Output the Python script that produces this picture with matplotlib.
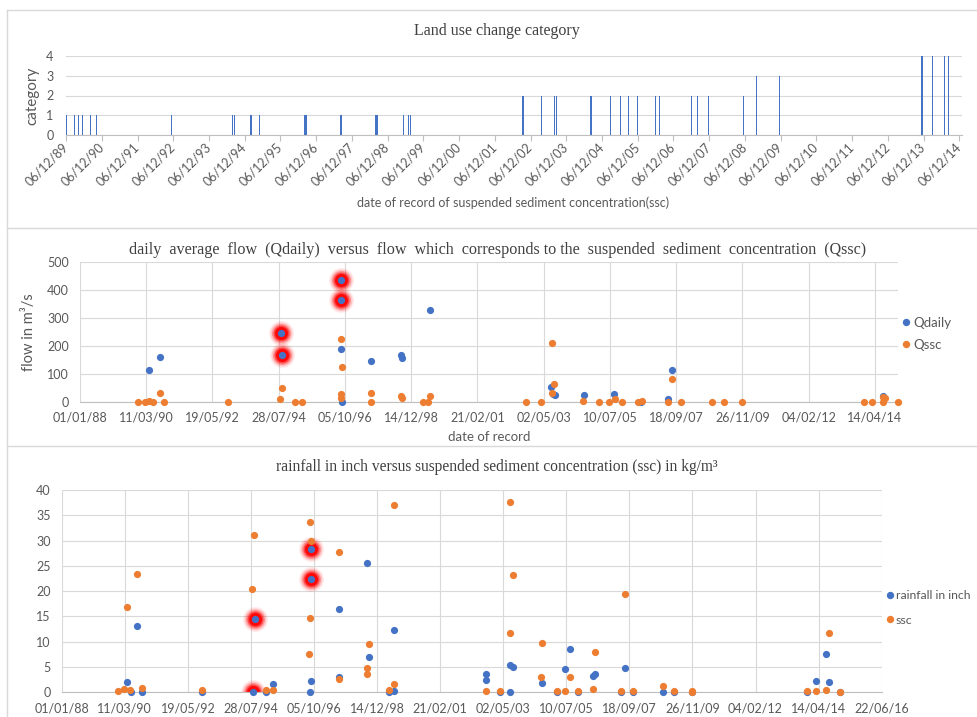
import numpy as np
import matplotlib
matplotlib.use('Agg')
import matplotlib.pyplot as plt
import matplotlib.dates as mdates
from matplotlib.lines import Line2D

# ---- land use change category (panel 1) ----
lu_dates = ['1989-12-09', '1990-02-26', '1990-04-11', '1990-05-22', '1990-08-16', '1990-10-12',
            '1992-11-17', '1994-08-07', '1994-08-24', '1995-02-08', '1995-05-06', '1996-08-06',
            '1996-08-16', '1996-08-26', '1997-08-16', '1998-08-09', '1998-08-23', '1999-05-19',
            '1999-07-09', '1999-07-26',
            '2002-09-14', '2002-09-24', '2003-03-30', '2003-08-07', '2003-08-28', '2004-08-13',
            '2004-08-23', '2005-02-27', '2005-06-16', '2005-09-01', '2005-11-30', '2006-06-02',
            '2006-07-16', '2007-06-12', '2007-08-06', '2007-11-27', '2008-11-19',
            '2009-04-07', '2009-11-25',
            '2013-11-20', '2014-03-08', '2014-07-06', '2014-08-19']
lu_cat = [1, 1, 1, 1, 1, 1, 1, 1, 1, 1, 1, 1, 1, 1, 1, 1, 1, 1, 1, 1,
          2, 2, 2, 2, 2, 2, 2, 2, 2, 2, 2, 2, 2, 2, 2, 2, 2,
          3, 3,
          4, 4, 4, 4]

# ---- flow (panel 2) ----
qdaily_dates = ['1990-04-13', '1990-08-23', '1994-08-20', '1994-09-09', '1996-08-14', '1996-08-14',
                '1996-08-14', '1996-08-26', '1997-08-15', '1998-08-12', '1998-08-20', '1999-07-27',
                '2003-08-01', '2003-08-25', '2003-09-11', '2004-09-02', '2005-08-31', '2006-07-15',
                '2007-06-06', '2007-07-28', '2014-07-23']
qdaily = [115, 160, 248, 168, 435, 365, 188, 0, 147, 168, 155, 328,
          54, 27, 25, 24, 27, 0, 8, 115, 20]
qdaily_marked = [2, 3, 4, 5]

qssc_dates = ['1989-12-05', '1990-02-24', '1990-04-13', '1990-05-28', '1990-08-23', '1990-10-11',
              '1992-11-26', '1994-08-12', '1994-09-01', '1995-02-06', '1995-05-08', '1996-08-14',
              '1996-08-14', '1996-08-14', '1996-08-26', '1997-08-15', '1997-08-15', '1998-08-12',
              '1998-08-28', '1999-05-04', '1999-07-03', '1999-07-27', '2002-09-26', '2003-04-02',
              '2003-08-09', '2003-09-02', '2003-08-09', '2004-08-21', '2005-03-03', '2005-06-28',
              '2005-09-08', '2005-11-28', '2006-06-09', '2006-07-27', '2007-06-06', '2007-07-28',
              '2007-11-17', '2008-11-19', '2009-04-13', '2009-11-27', '2013-12-03', '2014-03-17',
              '2014-07-23', '2014-07-23', '2014-08-09', '2015-01-19']
qssc = [0, 0, 4, 0, 30, 0, 0, 8, 50, 0, 0, 225, 26, 13, 125, 30, 0, 19, 12, 0, 0, 20,
        0, 0, 211, 63, 32, 4, 0, 0, 8, 0, 0, 2, 0, 83, 0, 0, 0, 0, 0, 0, 0, 18, 12, 0]

# ---- rainfall / ssc (panel 3) ----
rain_dates = ['1990-04-13', '1990-05-29', '1990-08-13', '1990-10-12', '1992-11-19', '1994-08-28',
              '1994-09-19', '1995-02-02', '1995-05-09', '1996-08-17', '1996-08-25', '1996-08-25',
              '1996-08-25', '1997-08-20', '1997-08-20', '1998-08-07', '1998-09-01', '1999-05-16',
              '1999-07-19', '1999-07-19', '2002-09-29', '2002-09-29', '2003-03-25', '2003-07-26',
              '2003-07-26', '2003-08-28', '2004-08-30', '2005-03-09', '2005-06-27', '2005-08-29',
              '2005-12-04', '2006-06-16', '2006-07-15', '2007-06-03', '2007-07-28', '2007-11-09',
              '2008-11-13', '2009-04-11', '2009-11-20', '2013-11-20', '2014-03-17', '2014-07-13',
              '2014-08-25', '2015-01-15']
rain = [2.1, 0, 13.1, 0, 0, 0, 14.5, 0, 1.7, 0, 2.3, 22.5, 28.3, 16.5, 3.0, 25.6, 6.9, 0,
        12.3, 0.2, 3.6, 2.5, 0, 5.3, 0, 5.1, 1.9, 0, 4.7, 8.5, 0, 3.3, 3.6, 0, 4.9, 0,
        0, 0, 0, 0, 2.3, 7.6, 2.1, 0]
rain_marked = [5, 6, 11, 12]

ssc_dates = ['1989-12-11', '1990-03-02', '1990-04-13', '1990-05-21', '1990-08-13', '1990-10-12',
             '1992-11-19', '1994-08-08', '1994-09-06', '1995-02-06', '1995-05-09', '1996-08-08',
             '1996-08-17', '1996-08-17', '1996-08-25', '1997-08-16', '1997-08-16', '1998-08-07',
             '1998-08-07', '1998-09-01', '1999-05-16', '1999-07-16', '1999-07-22', '2002-09-29',
             '2003-03-25', '2003-07-26', '2003-07-26', '2003-08-28', '2004-08-17', '2004-08-30',
             '2005-03-09', '2005-06-27', '2005-08-29', '2005-12-04', '2006-06-16', '2006-07-11',
             '2007-06-03', '2007-07-28', '2007-11-09', '2008-11-13', '2009-04-11', '2009-11-20',
             '2009-11-20', '2013-11-20', '2014-03-17', '2014-07-13', '2014-08-25', '2015-01-15']
ssc = [0.2, 0.6, 16.9, 0.5, 23.3, 0.9, 0.5, 20.4, 31.1, 0.5, 0.5, 7.6, 33.7, 14.6, 30.0,
       27.7, 2.6, 4.9, 3.6, 9.6, 0.5, 1.7, 37.0, 0.3, 0.3, 37.7, 11.8, 23.1, 3.0, 9.7,
       0.3, 0.3, 3.1, 0.3, 0.6, 8.0, 0.3, 19.4, 0.3, 1.25, 0.3, 0.3, 0.1, 0.3, 0.3, 0.5,
       11.7, 0.1]

BLUE = '#4472C4'
ORANGE = '#ED7D31'
TXT = '#595959'
GRID = '#d9d9d9'
SANS = 'Lato'
SERIF = 'Liberation Serif'

W, H = 977, 717
fig = plt.figure(figsize=(W / 100, H / 100), dpi=100)


def box(l, t, r, b):
    return [l / W, 1 - b / H, (r - l) / W, (b - t) / H]


def at(x, y):
    return x / W, 1 - y / H


def d64(lst):
    return np.array(lst, dtype='datetime64[D]')


def excel_axes(ax):
    for s in ['top', 'right', 'left']:
        ax.spines[s].set_visible(False)
    ax.spines['bottom'].set_color('#bfbfbf')
    ax.tick_params(colors=TXT, length=0, labelsize=9)
    for lab in ax.get_xticklabels() + ax.get_yticklabels():
        lab.set_fontfamily(SANS)
    ax.set_axisbelow(True)


def glow(ax, x, y):
    for d, a in [(25, 0.08), (22, 0.15), (19, 0.28), (16, 0.5), (13, 0.9)]:
        ax.scatter(x, y, s=(0.72 * d) ** 2, color='#ff0000', alpha=a, lw=0, zorder=2)


# panel frames
for y in [10, 228, 446]:
    fig.add_artist(Line2D([7 / W, 1], [1 - y / H, 1 - y / H], transform=fig.transFigure,
                          color='#d9d9d9', lw=1))
fig.add_artist(Line2D([7 / W, 7 / W], [1 - 10 / H, 0], transform=fig.transFigure,
                      color='#d9d9d9', lw=1))

# ---------------- panel 1 ----------------
ax1 = fig.add_axes(box(66, 56, 962, 135))
ax1.bar(d64(lu_dates), lu_cat, width=12, color=BLUE, lw=0)
ax1.set_ylim(0, 4)
ax1.set_yticks([0, 1, 2, 3, 4])
ax1.set_xlim(np.datetime64('1989-12-05'), np.datetime64('2015-01-03'))
ax1.set_xticks(d64([f'{y}-12-06' for y in range(1989, 2015)]))
ax1.xaxis.set_major_formatter(mdates.DateFormatter('%d/%m/%y'))
ax1.grid(axis='y', color=GRID, lw=0.8)
excel_axes(ax1)
ax1.tick_params(axis='x', length=4, color='#bfbfbf', pad=3)
ax1.tick_params(axis='y', pad=9)
for lab in ax1.get_xticklabels():
    lab.set_rotation(45)
    lab.set_ha('right')
    lab.set_va('center')
    lab.set_rotation_mode('anchor')
ax1.set_ylabel('category', fontsize=11, color=TXT, family=SANS, labelpad=5)
fig.text(*at(497, 31), 'Land use change category', family=SERIF, fontsize=11.5,
         color='#404040', ha='center', va='center')
fig.text(*at(513, 203), 'date of record of suspended sediment concentration(ssc)',
         family=SANS, fontsize=9, color=TXT, ha='center', va='center')

# ---------------- panel 2 ----------------
ax2 = fig.add_axes(box(80, 262.3, 898, 401.7))
qd_x, qd_y = d64(qdaily_dates), np.array(qdaily)
for i in qdaily_marked:
    glow(ax2, qd_x[i], qd_y[i])
ax2.scatter(qd_x, qd_y, s=27, color=BLUE, lw=0, zorder=3, clip_on=False)
ax2.scatter(d64(qssc_dates), qssc, s=27, color=ORANGE, lw=0, zorder=4, clip_on=False)
ax2.set_ylim(0, 500)
ax2.set_yticks(range(0, 501, 100))
ax2.set_xlim(np.datetime64('1988-01-01'), np.datetime64('2015-01-19'))
ax2.set_xticks(np.arange(np.datetime64('1988-01-01'), np.datetime64('2015-01-01'), 800))
ax2.xaxis.set_major_formatter(mdates.DateFormatter('%d/%m/%y'))
ax2.grid(True, color=GRID, lw=0.8)
excel_axes(ax2)
ax2.tick_params(axis='x', pad=7)
ax2.tick_params(axis='y', pad=8)
ax2.set_ylabel('flow in m³/s', fontsize=10.5, color=TXT, family=SANS, labelpad=8)
fig.text(*at(498, 250), 'daily  average  flow  (Qdaily)  versus  flow  which  corresponds to the  '
         'suspended  sediment  concentration  (Qssc)', family=SERIF, fontsize=11.6,
         color='#404040', ha='center', va='center')
fig.text(*at(489, 437), 'date of record', family=SANS, fontsize=9.5, color=TXT,
         ha='center', va='center')
h2 = [Line2D([], [], marker='o', ls='none', ms=5.3, mec='none', mfc=c) for c in (BLUE, ORANGE)]
ax2.legend(h2, ['Qdaily', 'Qssc'], loc='center left', bbox_to_anchor=at(903, 334),
           bbox_transform=fig.transFigure, frameon=False, handlelength=0.5, handletextpad=0.25,
           labelspacing=0.75, borderpad=0, borderaxespad=0,
           prop={'family': SANS, 'size': 9.5}, labelcolor=TXT)

# ---------------- panel 3 ----------------
ax3 = fig.add_axes(box(61.7, 490, 881.7, 692.3))
r_x, r_y = d64(rain_dates), np.array(rain)
for i in rain_marked:
    glow(ax3, r_x[i], r_y[i])
ax3.scatter(r_x, r_y, s=27, color=BLUE, lw=0, zorder=3, clip_on=False)
ax3.scatter(d64(ssc_dates), ssc, s=27, color=ORANGE, lw=0, zorder=4, clip_on=False)
ax3.set_ylim(0, 40)
ax3.set_yticks(range(0, 41, 5))
ax3.set_xlim(np.datetime64('1988-01-01'), np.datetime64('2016-06-22'))
ax3.set_xticks(np.arange(np.datetime64('1988-01-01'), np.datetime64('2016-07-01'), 800))
ax3.xaxis.set_major_formatter(mdates.DateFormatter('%d/%m/%y'))
ax3.grid(True, color=GRID, lw=0.8)
excel_axes(ax3)
ax3.tick_params(axis='x', pad=7)
ax3.tick_params(axis='y', pad=8)
fig.text(*at(497, 467), 'rainfall in inch versus suspended sediment concentration (ssc) in kg/m³',
         family=SERIF, fontsize=11.2, color='#404040', ha='center', va='center')
ax3.legend(h2, ['rainfall in inch', 'ssc'], loc='center left', bbox_to_anchor=at(887, 608),
           bbox_transform=fig.transFigure, frameon=False, handlelength=0.5, handletextpad=0.2,
           labelspacing=1.1, borderpad=0, borderaxespad=0,
           prop={'family': SANS, 'size': 8.8}, labelcolor=TXT)

fig.savefig('out.png', dpi=100)
